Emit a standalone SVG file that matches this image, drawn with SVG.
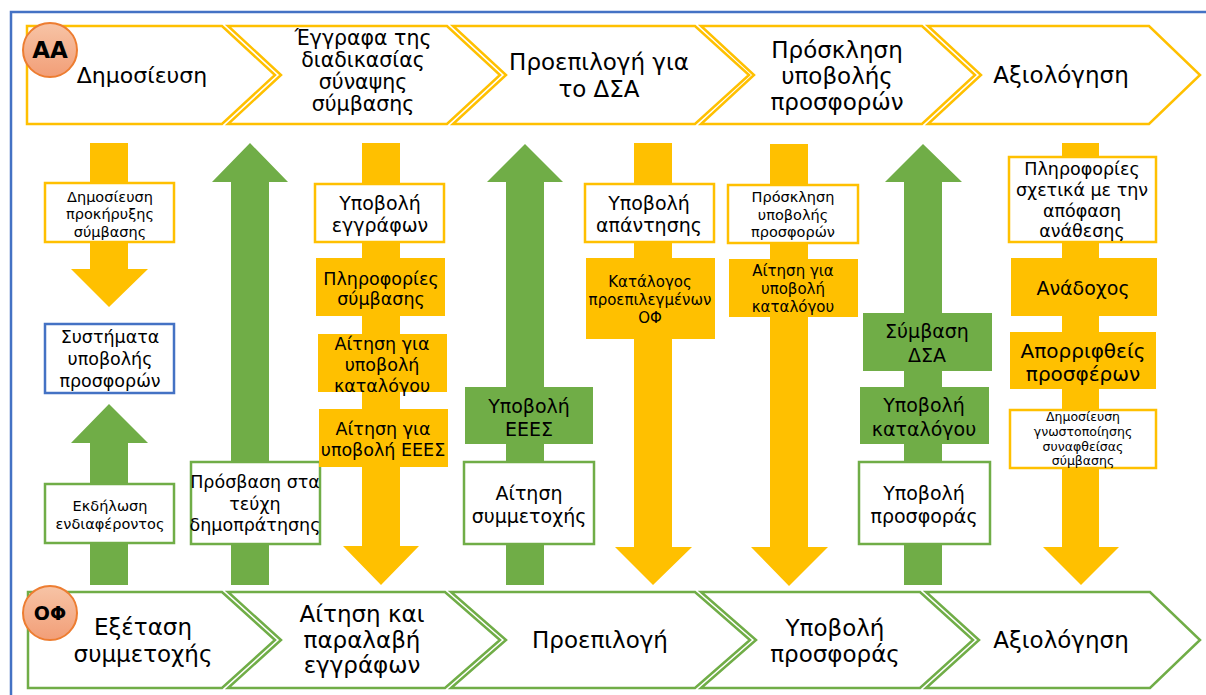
<svg xmlns="http://www.w3.org/2000/svg" width="1206" height="695" viewBox="0 0 1206 695">
<defs>
<linearGradient id="gc" x1="0" y1="0" x2="0" y2="1">
<stop offset="0" stop-color="#F7C4A6"/>
<stop offset="1" stop-color="#F29E77"/>
</linearGradient>
<style>
text{font-family:"DejaVu Sans",Verdana,sans-serif;fill:#000;text-anchor:middle}
.ty{fill:none;stroke:#FFC000;stroke-width:2.5}
.tg{fill:none;stroke:#70AD47;stroke-width:2.5}
.ay{fill:#FFC000}
.ag{fill:#70AD47}
.by{fill:#fff;stroke:#FFC000;stroke-width:2.5}
.bg{fill:#fff;stroke:#70AD47;stroke-width:2.5}
.bb{fill:#fff;stroke:#4472C4;stroke-width:2.5}
.fy{fill:#FFC000}
.fg{fill:#70AD47}
.circ{fill:url(#gc);stroke:#ED7D31;stroke-width:2}
.f21{font-size:20.5px}
.f22{font-size:22px}
.f23{font-size:23px}
.f19{font-size:19px}
.f17{font-size:17.5px}
.f15{font-size:15px}
.f14{font-size:14.5px}
.f12{font-size:12.5px}
</style>
</defs>
<rect x="11" y="12" width="1205" height="700" fill="none" stroke="#4472C4" stroke-width="2.5"/>

<g id="connectors">
<polygon class="ay" points="90,143 128,143 128,269 148,269 109,307 71,269 90,269"/>
<polygon class="ag" points="90,585 128,585 128,443 148,443 109,404 71,443 90,443"/>
<polygon class="ag" points="231,585 269,585 269,182 288,182 250,143 212,182 231,182"/>
<polygon class="ay" points="362,143 400,143 400,546 419,546 381,585 343,546 362,546"/>
<polygon class="ag" points="506,585 544,585 544,182 563,182 525,144 487,182 506,182"/>
<polygon class="ay" points="634,143 672,143 672,547 692,547 653,585 615,547 634,547"/>
<polygon class="ay" points="770,144 808,144 808,547 828,547 789,586 751,547 770,547"/>
<polygon class="ag" points="904,585 942,585 942,182 962,182 923,144 885,182 904,182"/>
<polygon class="ay" points="1062,143 1099,143 1099,547 1119,547 1081,585 1043,547 1062,547"/>
</g>

<g id="top-phases">
<g id="t1"><path class="ty" d="M27,26 H222 L275,75 L222,124 H27 Z"/><text class="f22" x="142" y="83">Δημοσίευση</text></g>
<g id="t2"><path class="ty" d="M228,26 H447 L500,75 L447,124 H228 L281,75 Z"/><text class="f21" x="363"><tspan x="363" y="45">Έγγραφα της</tspan><tspan x="363" y="67">διαδικασίας</tspan><tspan x="363" y="89">σύναψης</tspan><tspan x="363" y="111">σύμβασης</tspan></text></g>
<g id="t3"><path class="ty" d="M453,26 H695 L749,75 L695,124 H453 L506,75 Z"/><text class="f23" x="599"><tspan x="599" y="70">Προεπιλογή για</tspan><tspan x="599" y="97">το ΔΣΑ</tspan></text></g>
<g id="t4"><path class="ty" d="M701,26 H922 L975,75 L922,124 H701 L754,75 Z"/><text class="f23" x="837"><tspan x="837" y="58">Πρόσκληση</tspan><tspan x="837" y="84">υποβολής</tspan><tspan x="837" y="110">προσφορών</tspan></text></g>
<g id="t5"><path class="ty" d="M928,26 H1149 L1200,75 L1149,124 H928 L981,75 Z"/><text class="f23" x="1061" y="83">Αξιολόγηση</text></g>
<g id="aa"><circle class="circ" cx="50" cy="50" r="27"/><text x="50" y="58" style="font-size:23px;font-weight:bold">ΑΑ</text></g>
</g>

<g id="bottom-phases">
<g id="b1"><path class="tg" d="M28,592 H222 L275,640 L222,688 H28 Z"/><text class="f23" x="143"><tspan x="143" y="635">Εξέταση</tspan><tspan x="143" y="662">συμμετοχής</tspan></text></g>
<g id="b2"><path class="tg" d="M228,592 H445 L500,640 L445,688 H228 L281,640 Z"/><text class="f23" x="362"><tspan x="362" y="622">Αίτηση και</tspan><tspan x="362" y="648">παραλαβή</tspan><tspan x="362" y="673">εγγράφων</tspan></text></g>
<g id="b3"><path class="tg" d="M451,592 H695 L750,640 L695,688 H451 L506,640 Z"/><text class="f23" x="600" y="648">Προεπιλογή</text></g>
<g id="b4"><path class="tg" d="M701,592 H920 L973,640 L920,688 H701 L756,640 Z"/><text class="f23" x="835"><tspan x="835" y="636">Υποβολή</tspan><tspan x="835" y="662">προσφοράς</tspan></text></g>
<g id="b5"><path class="tg" d="M926,592 H1150 L1200,640 L1150,688 H926 L979,640 Z"/><text class="f23" x="1061" y="648">Αξιολόγηση</text></g>
<g id="of"><circle class="circ" cx="50" cy="613" r="27"/><text x="50" y="620" style="font-size:19px;font-weight:bold">ΟΦ</text></g>
</g>

<g id="n1"><rect class="by" x="45" y="183" width="129" height="59"/><text class="f14" x="110"><tspan x="110" y="202">Δημοσίευση</tspan><tspan x="110" y="219">προκήρυξης</tspan><tspan x="110" y="237">σύμβασης</tspan></text></g>
<g id="n2"><rect class="bb" x="45" y="324" width="129" height="69"/><text class="f17" x="110"><tspan x="110" y="343">Συστήματα</tspan><tspan x="110" y="365">υποβολής</tspan><tspan x="110" y="387">προσφορών</tspan></text></g>
<g id="n3"><rect class="bg" x="45" y="484" width="129" height="59"/><text class="f14" x="110"><tspan x="110" y="511">Εκδήλωση</tspan><tspan x="110" y="529">ενδιαφέροντος</tspan></text></g>
<g id="n4"><rect class="bg" x="191" y="462" width="129" height="82"/><text class="f17" x="255"><tspan x="255" y="488">Πρόσβαση στα</tspan><tspan x="255" y="510">τεύχη</tspan><tspan x="255" y="531">δημοπράτησης</tspan></text></g>

<g id="n5"><rect class="by" x="315" y="184" width="129" height="58"/><text class="f19" x="380"><tspan x="380" y="210">Υποβολή</tspan><tspan x="380" y="232">εγγράφων</tspan></text></g>
<g id="n6"><rect class="fy" x="316" y="258" width="129" height="58"/><text class="f17" x="381"><tspan x="381" y="285">Πληροφορίες</tspan><tspan x="381" y="305">σύμβασης</tspan></text></g>
<g id="n7"><rect class="fy" x="318" y="334" width="129" height="58"/><text class="f17" x="382"><tspan x="382" y="350">Αίτηση για</tspan><tspan x="382" y="371">υποβολή</tspan><tspan x="382" y="392">καταλόγου</tspan></text></g>
<g id="n8"><rect class="fy" x="319" y="409" width="129" height="58"/><text class="f17" x="383"><tspan x="383" y="435">Αίτηση για</tspan><tspan x="383" y="456">υποβολή ΕΕΕΣ</tspan></text></g>

<g id="n9"><rect class="fg" x="465" y="387" width="128" height="57"/><text class="f19" x="529"><tspan x="529" y="413">Υποβολή</tspan><tspan x="529" y="436">ΕΕΕΣ</tspan></text></g>
<g id="n10"><rect class="bg" x="464" y="462" width="130" height="82"/><text class="f19" x="529"><tspan x="529" y="500">Αίτηση</tspan><tspan x="529" y="523">συμμετοχής</tspan></text></g>

<g id="n11"><rect class="by" x="585" y="184" width="129" height="58"/><text class="f19" x="649"><tspan x="649" y="210">Υποβολή</tspan><tspan x="649" y="232">απάντησης</tspan></text></g>
<g id="n12"><rect class="fy" x="586" y="258" width="129" height="81"/><text class="f15" x="650"><tspan x="650" y="287">Κατάλογος</tspan><tspan x="650" y="305">προεπιλεγμένων</tspan><tspan x="650" y="323">ΟΦ</tspan></text></g>

<g id="n13"><rect class="by" x="728" y="185" width="130" height="58"/><text class="f14" x="793"><tspan x="793" y="202">Πρόσκληση</tspan><tspan x="793" y="220">υποβολής</tspan><tspan x="793" y="237">προσφορών</tspan></text></g>
<g id="n14"><rect class="fy" x="729" y="259" width="129" height="58"/><text class="f15" x="793"><tspan x="793" y="276">Αίτηση για</tspan><tspan x="793" y="294">υποβολή</tspan><tspan x="793" y="312">καταλόγου</tspan></text></g>

<g id="n15"><rect class="fg" x="863" y="313" width="129" height="58"/><text class="f19" x="927"><tspan x="927" y="338">Σύμβαση</tspan><tspan x="927" y="362">ΔΣΑ</tspan></text></g>
<g id="n16"><rect class="fg" x="860" y="387" width="129" height="57"/><text class="f19" x="924"><tspan x="924" y="412">Υποβολή</tspan><tspan x="924" y="436">καταλόγου</tspan></text></g>
<g id="n17"><rect class="bg" x="859" y="462" width="131" height="82"/><text class="f19" x="924"><tspan x="924" y="500">Υποβολή</tspan><tspan x="924" y="523">προσφοράς</tspan></text></g>

<g id="n18"><rect class="by" x="1009" y="157" width="147" height="85"/><text class="f17" x="1082"><tspan x="1082" y="175">Πληροφορίες</tspan><tspan x="1082" y="196">σχετικά με την</tspan><tspan x="1082" y="217">απόφαση</tspan><tspan x="1082" y="237">ανάθεσης</tspan></text></g>
<g id="n19"><rect class="fy" x="1011" y="258" width="146" height="58"/><text class="f19" x="1083" y="295">Ανάδοχος</text></g>
<g id="n20"><rect class="fy" x="1010" y="332" width="146" height="57"/><text class="f19" x="1083" style="font-size:20px"><tspan x="1083" y="358">Απορριφθείς</tspan><tspan x="1083" y="381">προσφέρων</tspan></text></g>
<g id="n21"><rect class="by" x="1010" y="410" width="146" height="58"/><text class="f12" x="1083"><tspan x="1083" y="421">Δημοσίευση</tspan><tspan x="1083" y="436">γνωστοποίησης</tspan><tspan x="1083" y="451">συναφθείσας</tspan><tspan x="1083" y="465">σύμβασης</tspan></text></g>
</svg>
